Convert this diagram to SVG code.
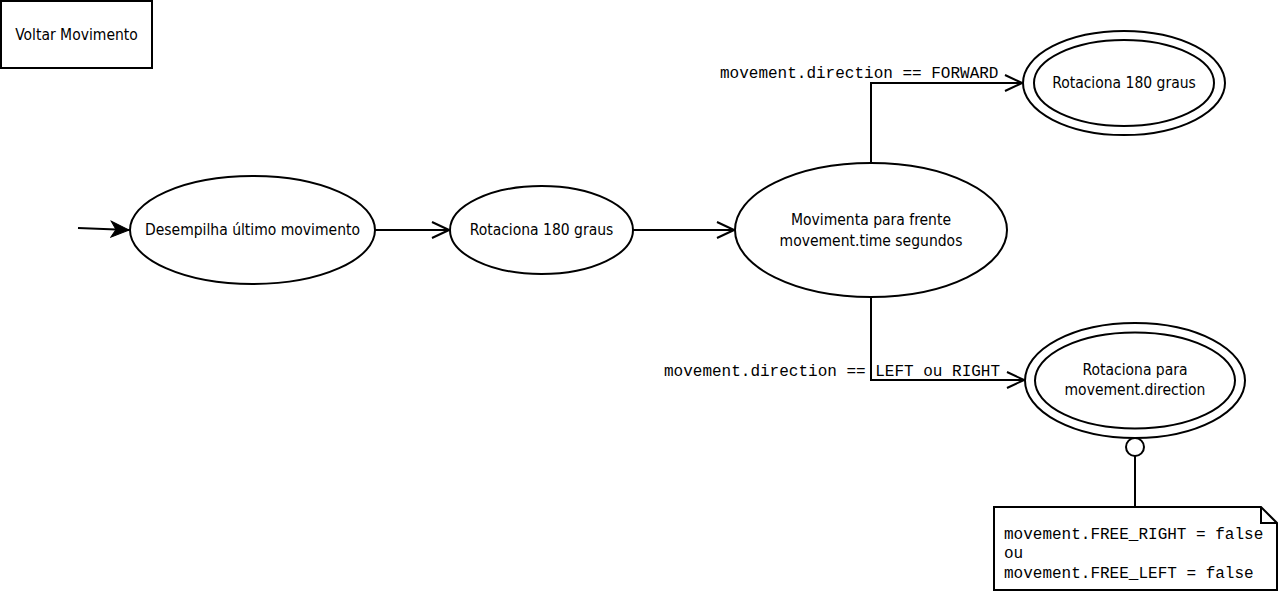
<svg xmlns="http://www.w3.org/2000/svg" width="1280" height="591" viewBox="0 0 1280 591">
<style>
.s{fill:#fff;stroke:#000;stroke-width:2}
.l{fill:none;stroke:#000;stroke-width:2}
.t{font-family:"DejaVu Sans Condensed","DejaVu Sans",sans-serif;font-size:15.5px;fill:#000;text-anchor:middle}
.m{font-family:"Liberation Mono","Courier New",monospace;font-size:16px;fill:#000}
</style>
<defs>
<marker id="open" viewBox="0 0 20 20" refX="19" refY="10" markerWidth="20" markerHeight="20" markerUnits="userSpaceOnUse" orient="auto">
<path d="M2 2 L19 10 L2 18" fill="none" stroke="#000" stroke-width="2"/>
</marker>
<marker id="fill" viewBox="0 0 20 20" refX="19" refY="10" markerWidth="20" markerHeight="20" markerUnits="userSpaceOnUse" orient="auto">
<path d="M1 2 L19 10 L1 18 L6 10 Z" fill="#000" stroke="#000" stroke-width="1"/>
</marker>
</defs>
<rect width="1280" height="591" fill="#fff"/>
<g id="title">
<rect class="s" x="1" y="1" width="151" height="67"/>
<text class="t" x="76.5" y="40">Voltar Movimento</text>
</g>
<g id="connectors">
<line class="l" x1="78" y1="228" x2="129" y2="230" marker-end="url(#fill)"/>
<line class="l" x1="375" y1="230" x2="449" y2="230" marker-end="url(#open)"/>
<line class="l" x1="633" y1="230" x2="734" y2="230" marker-end="url(#open)"/>
<polyline class="l" points="871,163 871,83 1022,83" marker-end="url(#open)"/>
<polyline class="l" points="871,297 871,380 1024,380" marker-end="url(#open)"/>
<line class="l" x1="1135" y1="456" x2="1135" y2="507"/>
<circle class="s" cx="1135" cy="447" r="9"/>
<text class="m" x="720" y="78">movement.direction == FORWARD</text>
<text class="m" x="664" y="376">movement.direction == LEFT ou RIGHT</text>
</g>
<g id="n1">
<ellipse class="s" cx="252.5" cy="230" rx="122.5" ry="54"/>
<text class="t" x="252.5" y="235">Desempilha último movimento</text>
</g>
<g id="n2">
<ellipse class="s" cx="541.5" cy="230" rx="91.5" ry="44"/>
<text class="t" x="541.5" y="235">Rotaciona 180 graus</text>
</g>
<g id="n3">
<ellipse class="s" cx="871" cy="230" rx="136" ry="67"/>
<text class="t" x="871" y="225">Movimenta para frente</text>
<text class="t" x="871" y="246">movement.time segundos</text>
</g>
<g id="n4">
<ellipse class="s" cx="1124" cy="83" rx="101" ry="52"/>
<ellipse class="s" cx="1124" cy="83" rx="90" ry="43"/>
<text class="t" x="1124" y="88">Rotaciona 180 graus</text>
</g>
<g id="n5">
<ellipse class="s" cx="1135" cy="380.5" rx="110" ry="57.5"/>
<ellipse class="s" cx="1135" cy="380.5" rx="100" ry="48"/>
<text class="t" x="1135" y="375">Rotaciona para</text>
<text class="t" x="1135" y="395">movement.direction</text>
</g>
<g id="note">
<path class="s" d="M994 507 H1261 L1277 523 V590 H994 Z"/>
<path class="l" d="M1261 507 V523 H1277"/>
<text class="m" x="1004" y="539">movement.FREE_RIGHT = false</text>
<text class="m" x="1004" y="558">ou</text>
<text class="m" x="1004" y="578">movement.FREE_LEFT = false</text>
</g>
</svg>
